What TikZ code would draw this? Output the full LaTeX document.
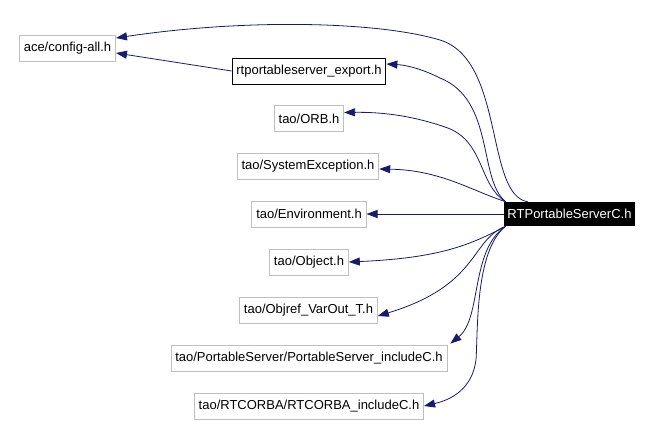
\documentclass[tikz,border=0pt]{standalone}
\usepackage{fontspec}
\setmainfont{Liberation Sans}
\usetikzlibrary{arrows.meta}
\definecolor{edgeblue}{HTML}{191970}
\definecolor{boxgray}{HTML}{BFBFBF}
\tikzset{
  file/.style={draw=boxgray, line width=0.9pt, fill=white, inner xsep=4.3pt, inner ysep=0pt, minimum height=26pt, font=\fontsize{13}{15}\selectfont},
  filedoc/.style={file, draw=black},
  mainfile/.style={fill=black, text=white, inner xsep=3.5pt, inner ysep=0pt, minimum height=24pt, font=\fontsize{13}{15}\selectfont},
  dep/.style={draw=edgeblue, line width=0.8pt, -{Triangle[length=11pt,width=8pt]}, color=edgeblue},
}
\begin{document}
\begin{tikzpicture}[x=1pt,y=-1pt]
\useasboundingbox (0,0) rectangle (654,424);
\node[file] (ace) at (67.5,48) {ace/config-all.h};
\node[filedoc] (exp) at (309,71) {rtportableserver\_export.h};
\node[file] (orb) at (309,118.5) {tao/ORB.h};
\node[file] (sysex) at (308,166) {tao/SystemException.h};
\node[file] (env) at (309,214) {tao/Environment.h};
\node[file] (obj) at (309,262) {tao/Object.h};
\node[file] (objref) at (308.5,310) {tao/Objref\_VarOut\_T.h};
\node[file] (ps) at (309,358) {tao/PortableServer/PortableServer\_includeC.h};
\node[file] (rtc) at (309,406) {tao/RTCORBA/RTCORBA\_includeC.h};
\node[mainfile] (src) at (569.5,214) {RTPortableServerC.h};

\draw[dep] ([xshift=24pt]src.north west) .. controls (485,195) and (505,60) .. (440,40)
   .. controls (380,22) and (250,18) .. ([yshift=10pt]ace.east);
\draw[dep] (exp.west) -- ([yshift=-5pt]ace.east);
\draw[dep] ([xshift=2pt]src.north west) .. controls (478,180) and (495,100) .. (440,78)
   .. controls (420,68) and (405,65) .. ([yshift=7pt]exp.east);
\draw[dep] ([xshift=2pt]src.north west) .. controls (478,185) and (485,140) .. (445,127)
   .. controls (410,115) and (380,112) .. ([yshift=6pt]orb.east);
\draw[dep] ([xshift=2pt]src.north west) .. controls (470,190) and (440,170) .. ([yshift=-3pt]sysex.east);
\draw[dep] (src.west) -- (env.east);
\draw[dep] ([xshift=2pt]src.south west) .. controls (470,245) and (440,258) .. (obj.east);
\draw[dep] ([xshift=2pt]src.south west) .. controls (470,240) and (480,285) .. ([yshift=-6pt]objref.east);
\draw[dep] ([xshift=2pt]src.south west) .. controls (470,250) and (482,318) .. ([xshift=3pt,yshift=1pt]ps.north east);
\draw[dep] ([xshift=2pt]src.south west) .. controls (475,250) and (478,330) .. (476,360)
   .. controls (472,390) and (450,400) .. (rtc.east);
\end{tikzpicture}
\end{document}
